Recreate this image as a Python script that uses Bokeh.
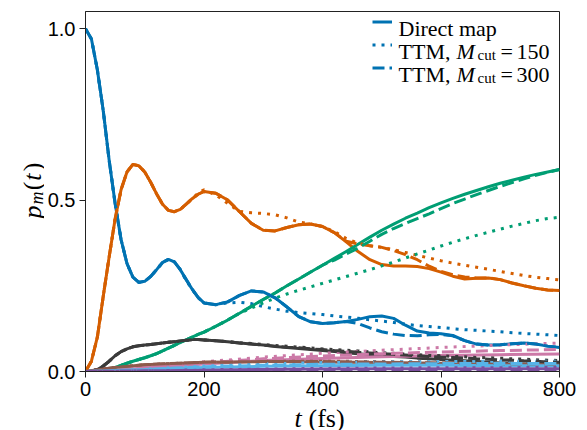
import math

from bokeh.embed import file_html
from bokeh.layouts import column, row
from bokeh.models import FixedTicker, Label, Legend, LegendItem, Range1d
from bokeh.plotting import figure
from bokeh.resources import INLINE

# ---------------------------------------------------------------------------
# Populations p_m(t): direct map vs. TTM propagation with two memory cut-offs
# ---------------------------------------------------------------------------
t = [0, 10, 20, 30, 40, 50, 60, 70, 80, 90, 100, 110, 120, 130, 140, 150, 160,
     170, 180, 190, 200, 220, 240, 260, 280, 300, 320, 340, 360, 380, 400, 420,
     440, 460, 480, 500, 520, 540, 560, 580, 600, 620, 640, 660, 680, 700, 720,
     740, 760, 780, 800]

blue_direct = [1.0, 0.97, 0.88, 0.76, 0.615, 0.49, 0.385, 0.315, 0.275, 0.26,
               0.263, 0.277, 0.297, 0.318, 0.327, 0.32, 0.297, 0.268, 0.24,
               0.216, 0.2, 0.195, 0.203, 0.222, 0.235, 0.232, 0.215, 0.188,
               0.16, 0.145, 0.14, 0.142, 0.146, 0.152, 0.16, 0.162, 0.155,
               0.135, 0.118, 0.112, 0.11, 0.105, 0.09, 0.08, 0.077, 0.078,
               0.081, 0.083, 0.08, 0.074, 0.07]
blue_ttm150 = blue_direct[:17] + [
    0.265, 0.24, 0.215, 0.2, 0.195, 0.2, 0.202, 0.198, 0.189, 0.182, 0.176,
    0.172, 0.169, 0.166, 0.162, 0.159, 0.155, 0.151, 0.147, 0.143, 0.138,
    0.134, 0.131, 0.128, 0.125, 0.122, 0.12, 0.118, 0.116, 0.113, 0.111,
    0.109, 0.107, 0.105]
blue_ttm300 = blue_direct[:33] + [
    0.14, 0.127, 0.116, 0.109, 0.105, 0.104, 0.107, 0.108, 0.104] + blue_direct[42:]

orange_direct = [0.0, 0.03, 0.1, 0.22, 0.335, 0.445, 0.53, 0.582, 0.604, 0.6,
                 0.582, 0.552, 0.518, 0.488, 0.47, 0.466, 0.473, 0.488, 0.504,
                 0.517, 0.525, 0.52, 0.5, 0.466, 0.432, 0.412, 0.41, 0.42,
                 0.428, 0.43, 0.423, 0.405, 0.378, 0.35, 0.326, 0.312, 0.308,
                 0.308, 0.306, 0.3, 0.29, 0.278, 0.27, 0.272, 0.273, 0.268,
                 0.258, 0.25, 0.243, 0.238, 0.236]
orange_ttm150 = orange_direct[:19] + [
    0.52, 0.53, 0.515, 0.49, 0.467, 0.463, 0.461, 0.457, 0.448, 0.436, 0.43,
    0.423, 0.408, 0.388, 0.374, 0.367, 0.362, 0.355, 0.347, 0.339, 0.331,
    0.323, 0.316, 0.31, 0.304, 0.298, 0.292, 0.286, 0.28, 0.275, 0.271, 0.267]
orange_ttm300 = orange_direct[:32] + [
    0.38, 0.372, 0.367, 0.362, 0.353, 0.341, 0.326, 0.307, 0.292, 0.282,
    0.276, 0.273] + orange_direct[44:]

green_direct = [0.0, 0.0, 0.001, 0.003, 0.006, 0.012, 0.018, 0.024, 0.03,
                0.035, 0.04, 0.046, 0.052, 0.06, 0.068, 0.076, 0.085, 0.092,
                0.1, 0.108, 0.115, 0.132, 0.15, 0.17, 0.19, 0.21, 0.229, 0.25,
                0.27, 0.29, 0.31, 0.33, 0.35, 0.371, 0.392, 0.412, 0.43,
                0.447, 0.462, 0.478, 0.492, 0.505, 0.517, 0.528, 0.539,
                0.549, 0.558, 0.567, 0.575, 0.582, 0.589]
green_ttm150 = green_direct[:24] + [
    0.185, 0.2, 0.214, 0.226, 0.237, 0.247, 0.257, 0.267, 0.277, 0.287,
    0.297, 0.308, 0.319, 0.331, 0.343, 0.354, 0.366, 0.377, 0.387, 0.397,
    0.406, 0.415, 0.424, 0.432, 0.44, 0.446, 0.45]
green_ttm300 = green_direct[:31] + [
    0.325, 0.343, 0.36, 0.38, 0.4, 0.417, 0.432, 0.446, 0.46, 0.475, 0.49,
    0.503, 0.516, 0.528, 0.54, 0.551, 0.562, 0.572, 0.581, 0.589]

gray_direct = [0.0, 0.001, 0.006, 0.016, 0.03, 0.046, 0.058, 0.066, 0.072,
               0.075, 0.077, 0.079, 0.081, 0.083, 0.085, 0.087, 0.089, 0.091,
               0.093, 0.093, 0.092, 0.09, 0.087, 0.083, 0.08, 0.077, 0.073,
               0.07, 0.067, 0.064, 0.061, 0.058, 0.055, 0.052, 0.049, 0.047,
               0.044, 0.042, 0.039, 0.037, 0.035, 0.033, 0.031, 0.029, 0.027,
               0.025, 0.023, 0.022, 0.02, 0.019, 0.018]
gray_ttm150 = gray_direct[:23] + [
    0.084, 0.082, 0.079, 0.076, 0.074, 0.071, 0.069, 0.066, 0.064, 0.062,
    0.06, 0.057, 0.055, 0.053, 0.051, 0.049, 0.047, 0.046, 0.044, 0.043,
    0.041, 0.04, 0.039, 0.037, 0.036, 0.034, 0.033, 0.032]
gray_ttm300 = gray_direct[:26] + [
    0.074, 0.071, 0.069, 0.066, 0.064, 0.061, 0.059, 0.056, 0.054, 0.052,
    0.05, 0.048, 0.046, 0.044, 0.042, 0.041, 0.039, 0.037, 0.036, 0.034,
    0.033, 0.031, 0.03, 0.028, 0.027]

# weakly populated states, sampled more coarsely
t_coarse = [0, 50, 100, 200, 300, 400, 500, 600, 700, 800]
pink_direct = [0, 0.004, 0.01, 0.022, 0.032, 0.038, 0.043, 0.047, 0.049, 0.051]
pink_ttm150 = [0, 0.004, 0.011, 0.028, 0.042, 0.053, 0.062, 0.07, 0.077, 0.083]
pink_ttm300 = [0, 0.004, 0.011, 0.025, 0.037, 0.045, 0.052, 0.057, 0.061, 0.064]
brown_direct = [0, 0.012, 0.02, 0.027, 0.029, 0.028, 0.026, 0.024, 0.022, 0.02]
brown_ttm150 = [0, 0.012, 0.02, 0.027, 0.03, 0.03, 0.029, 0.028, 0.027, 0.026]
brown_ttm300 = [0, 0.012, 0.02, 0.027, 0.029, 0.029, 0.027, 0.025, 0.023, 0.022]
sky_direct = [0, 0.003, 0.006, 0.012, 0.015, 0.017, 0.018, 0.018, 0.017, 0.017]
sky_ttm150 = [0, 0.003, 0.007, 0.016, 0.022, 0.026, 0.028, 0.029, 0.03, 0.03]
sky_ttm300 = [0, 0.003, 0.006, 0.014, 0.018, 0.021, 0.022, 0.023, 0.023, 0.023]
purple_direct = [0, 0.001, 0.002, 0.004, 0.006, 0.007, 0.008, 0.008, 0.008, 0.008]
purple_ttm150 = [0, 0.001, 0.002, 0.005, 0.007, 0.009, 0.01, 0.011, 0.011, 0.012]
purple_ttm300 = [0, 0.001, 0.002, 0.003, 0.004, 0.004, 0.004, 0.004, 0.004, 0.004]

x_ticks = [0, 200, 400, 600, 800]
x_tick_labels = ["0", "200", "400", "600", "800"]
y_ticks = [0.0, 0.5, 1.0]
y_tick_labels = ["0.0", "0.5", "1.0"]

states = [
    ("#0072B2", t, blue_direct, blue_ttm150, blue_ttm300),
    ("#D55E00", t, orange_direct, orange_ttm150, orange_ttm300),
    ("#009E73", t, green_direct, green_ttm150, green_ttm300),
    ("#3B3B3B", t, gray_direct, gray_ttm150, gray_ttm300),
    ("#CC79A7", t_coarse, pink_direct, pink_ttm150, pink_ttm300),
    ("#8E5A4C", t_coarse, brown_direct, brown_ttm150, brown_ttm300),
    ("#56B4E9", t_coarse, sky_direct, sky_ttm150, sky_ttm300),
    ("#7B4F9E", t_coarse, purple_direct, purple_ttm150, purple_ttm300),
]

SERIF = "Liberation Serif"
LEFT_W = 44      # strip holding the rotated y-axis title
BOTTOM_H = 28    # strip holding the x-axis title

p = figure(width=587 - LEFT_W, height=430 - BOTTOM_H, output_backend="svg",
           toolbar_location=None, x_range=Range1d(0, 800),
           y_range=Range1d(0, 1.05),
           min_border_left=84 - LEFT_W, min_border_right=28,
           min_border_top=11, min_border_bottom=31)
p.background_fill_color = "white"
p.border_fill_color = "white"
p.xgrid.grid_line_color = None
p.ygrid.grid_line_color = None
p.outline_line_color = "#222222"
p.outline_line_width = 1

for ax in (p.xaxis[0], p.yaxis[0]):
    ax.major_tick_in = 0
    ax.major_tick_out = 6
    ax.minor_tick_line_color = None
    ax.axis_line_color = "#222222"
    ax.major_tick_line_color = "#222222"
    ax.major_label_text_font = "Liberation Sans"
    ax.major_label_text_font_size = "20px"
    ax.major_label_text_color = "black"
    ax.major_label_standoff = 4
p.xaxis.ticker = FixedTicker(ticks=x_ticks)
p.yaxis.ticker = FixedTicker(ticks=y_ticks)
p.xaxis.major_label_overrides = dict(zip(x_ticks, x_tick_labels))
p.yaxis.major_label_overrides = dict(zip(y_ticks, y_tick_labels))

LW = 3
solid, dotted, dashed = [], [], []
for color, tt, d, _, _ in states:
    solid.append(p.line(tt, d, line_color=color, line_width=LW,
                        line_join="round"))
for color, tt, _, m150, _ in states:
    dotted.append(p.line(tt, m150, line_color=color, line_width=LW,
                         line_dash="3 6", line_cap="butt"))
for color, tt, _, _, m300 in states:
    dashed.append(p.line(tt, m300, line_color=color, line_width=LW,
                         line_dash="12 5", line_cap="butt"))

# legend: glyph samples only; the mixed-font texts are placed as labels
legend = Legend(items=[LegendItem(label=" ", renderers=[solid[0]]),
                       LegendItem(label=" ", renderers=[dotted[0]]),
                       LegendItem(label=" ", renderers=[dashed[0]])],
                location=(287, 292), padding=0, margin=0, spacing=0,
                label_height=23, glyph_height=23, glyph_width=20,
                label_standoff=0, border_line_color=None,
                background_fill_alpha=0)
p.add_layout(legend)


def txt(fig, x, y, s, size=22, italic=False, angle=0.0, align="left"):
    fig.add_layout(Label(x=x, y=y, x_units="screen", y_units="screen", text=s,
                         text_font=SERIF, text_font_size=f"{size}px",
                         text_font_style="italic" if italic else "normal",
                         text_color="black", text_baseline="alphabetic",
                         text_align=align, angle=angle))


# legend texts
txt(p, 313, 343, "Direct map")
for row_y, cut in ((320, "150"), (297, "300")):
    txt(p, 313, row_y, "TTM,")
    txt(p, 371, row_y, "M", italic=True)
    txt(p, 392, row_y - 3, "cut", size=15)
    txt(p, 415, row_y, "=")
    txt(p, 431, row_y, cut)


def strip(w, h):
    f = figure(width=w, height=h, output_backend="svg", toolbar_location=None,
               x_axis_type=None, y_axis_type=None, x_range=Range1d(0, 1),
               y_range=Range1d(0, 1), min_border=0)
    f.outline_line_color = None
    f.xgrid.grid_line_color = None
    f.ygrid.grid_line_color = None
    f.background_fill_color = "white"
    f.border_fill_color = "white"
    return f


# x-axis title: t (fs)  (strip frame is aligned with the plot frame)
xl = strip(587 - LEFT_W, BOTTOM_H)
txt(xl, 209, 12, "t", size=26, italic=True)
txt(xl, 223, 12, "(fs)", size=26)

# y-axis title: p_m(t), rotated; each piece anchored at its upper end
yl = strip(LEFT_W, 430)
rot = math.pi / 2
txt(yl, 32, 225, "p", size=26, italic=True, angle=rot, align="right")
txt(yl, 36, 239, "m", size=18, italic=True, angle=rot, align="right")
txt(yl, 32, 249, "(", size=26, angle=rot, align="right")
txt(yl, 32, 257, "t", size=26, italic=True, angle=rot, align="right")
txt(yl, 32, 268, ")", size=26, angle=rot, align="right")

layout = row(yl, column(p, xl, spacing=0), spacing=0)
open("out.html", "w").write(file_html(layout, INLINE))
